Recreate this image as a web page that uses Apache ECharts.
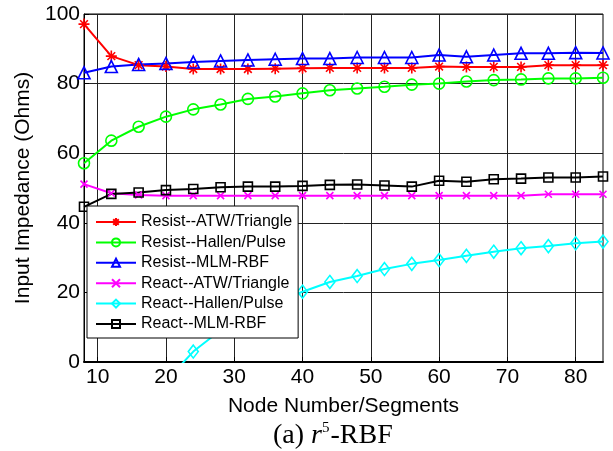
<!DOCTYPE html>
<html>
<head>
<meta charset="utf-8">
<script src="https://cdn.jsdelivr.net/npm/echarts@6/dist/echarts.min.js"></script>
<style>
  html, body { margin: 0; padding: 0; background: #fff; }
  #chart { width: 613px; height: 451px; }
</style>
</head>
<body>
<div id="chart"></div>
<script>
// node counts (segments)
const nodes = [8, 12, 16, 20, 24, 28, 32, 36, 40, 44, 48, 52, 56, 60, 64, 68, 72, 76, 80, 84]
const xTicks = [10, 20, 30, 40, 50, 60, 70, 80]

// input impedance values (Ohms)
const resistAtw = [97.1, 87.9, 85.3, 84.9, 84.2, 84.2, 84.2, 84.3, 84.4, 84.5, 84.5, 84.5, 84.5, 84.9, 84.8, 84.8, 84.8, 85.3, 85.3, 85.3]
const resistHallen = [57.1, 63.6, 67.6, 70.5, 72.6, 74.0, 75.6, 76.3, 77.2, 78.1, 78.6, 79.1, 79.7, 80.0, 80.6, 81.0, 81.2, 81.5, 81.5, 81.7]
const resistMlm = [83.1, 84.9, 85.5, 85.8, 86.2, 86.5, 86.8, 87.0, 87.2, 87.2, 87.5, 87.5, 87.5, 88.2, 87.7, 88.2, 88.7, 88.7, 88.9, 88.8]
const reactAtw = [51.1, 48.5, 48.0, 47.8, 47.8, 47.8, 47.8, 47.8, 47.8, 47.8, 47.8, 47.8, 47.8, 47.8, 47.8, 47.8, 47.8, 48.2, 48.2, 48.2]
const reactHallen = [-40, -25, -13, -5.5, 3.0, 9.1, 13.5, 17.2, 20.2, 23.0, 24.7, 26.7, 28.2, 29.3, 30.5, 31.7, 32.7, 33.3, 34.1, 34.6]
const reactMlm = [44.6, 48.3, 48.7, 49.4, 49.7, 50.2, 50.4, 50.4, 50.6, 50.9, 51.0, 50.7, 50.4, 52.1, 51.8, 52.5, 52.7, 53.0, 53.0, 53.3]

const seriesNames = [
  'Resist--ATW/Triangle', 'Resist--Hallen/Pulse', 'Resist--MLM-RBF',
  'React--ATW/Triangle', 'React--Hallen/Pulse', 'React--MLM-RBF'
]

// matlab style markers
const STAR = 'path://M5,0L5,10M0,5L10,5M1.5,1.5L8.5,8.5M1.5,8.5L8.5,1.5'
const CROSS = 'path://M0,0L10,10M0,10L10,0'

const makeSeries = (name, values, color, symbol, size) => ({
  name: name,
  type: 'line',
  data: values.map((v, i) => [nodes[i], v]),
  symbol: symbol,
  symbolSize: size,
  lineStyle: { color: color, width: 2 },
  itemStyle: { color: 'rgba(0,0,0,0)', borderColor: color, borderWidth: 1.6 },
  emphasis: { disabled: true },
  clip: true,
  animation: false
})

const font = 'Arial, "Liberation Sans", Helvetica, sans-serif'
const serif = '"Liberation Serif", "Times New Roman", serif'

const chart = echarts.init(document.getElementById('chart'))
chart.setOption({
  backgroundColor: '#fff',
  animation: false,
  textStyle: { fontFamily: font },
  title: {
    text: '{n|(a) }{i|r}{s|5}{n|-RBF}',
    left: 268,
    top: 416,
    textStyle: {
      fontWeight: 'normal',
      rich: {
        n: { fontFamily: serif, fontSize: 28, fontWeight: 'normal', color: '#000' },
        i: { fontFamily: serif, fontSize: 28, fontWeight: 'normal', fontStyle: 'italic', color: '#000' },
        s: { fontFamily: serif, fontSize: 15, fontWeight: 'normal', color: '#000', padding: [0, 1, 14, 0] }
      }
    }
  },
  grid: {
    left: 84, right: 10, top: 14, bottom: 89,
    show: true, borderColor: '#000', borderWidth: 1,
    containLabel: false
  },
  legend: {
    orient: 'vertical',
    left: 87, top: 206,
    itemWidth: 40, itemHeight: 10, itemGap: 4.4,
    padding: [8, 6, 6, 8],
    backgroundColor: '#fff',
    borderColor: '#000', borderWidth: 1,
    textStyle: { fontFamily: font, fontSize: 16, color: '#000', lineHeight: 16 },
    data: seriesNames
  },
  xAxis: {
    type: 'value',
    min: 8, max: 84,
    name: 'Node Number/Segments',
    nameLocation: 'middle',
    nameGap: 34,
    nameTextStyle: { fontSize: 21, color: '#000', fontFamily: font },
    axisLine: { show: true, onZero: false, lineStyle: { color: '#000', width: 2 } },
    axisTick: { show: true, inside: true, length: 5, customValues: xTicks, lineStyle: { color: '#000' } },
    axisLabel: { customValues: xTicks, fontSize: 21, color: '#000', margin: 5, fontFamily: font },
    splitLine: { show: true, lineStyle: { color: '#222', width: 1 } }
  },
  yAxis: {
    type: 'value',
    min: 0, max: 100, interval: 20,
    name: 'Input Impedance (Ohms)',
    nameLocation: 'middle',
    nameGap: 46,
    nameTextStyle: { fontSize: 21, color: '#000', fontFamily: font },
    axisLine: { show: true, lineStyle: { color: '#000', width: 1 } },
    axisTick: { show: true, inside: true, length: 5, lineStyle: { color: '#000' } },
    axisLabel: { fontSize: 21, color: '#000', margin: 4, fontFamily: font },
    splitLine: { show: true, lineStyle: { color: '#222', width: 1 } }
  },
  series: [
    makeSeries(seriesNames[0], resistAtw, '#ff0000', STAR, 11),
    makeSeries(seriesNames[1], resistHallen, '#00ff00', 'circle', 11),
    makeSeries(seriesNames[2], resistMlm, '#0000ff', 'triangle', 12),
    makeSeries(seriesNames[3], reactAtw, '#ff00ff', CROSS, 7),
    makeSeries(seriesNames[4], reactHallen, '#00ffff', 'diamond', [10, 13]),
    makeSeries(seriesNames[5], reactMlm, '#000000', 'rect', 9)
  ]
})
</script>
</body>
</html>
